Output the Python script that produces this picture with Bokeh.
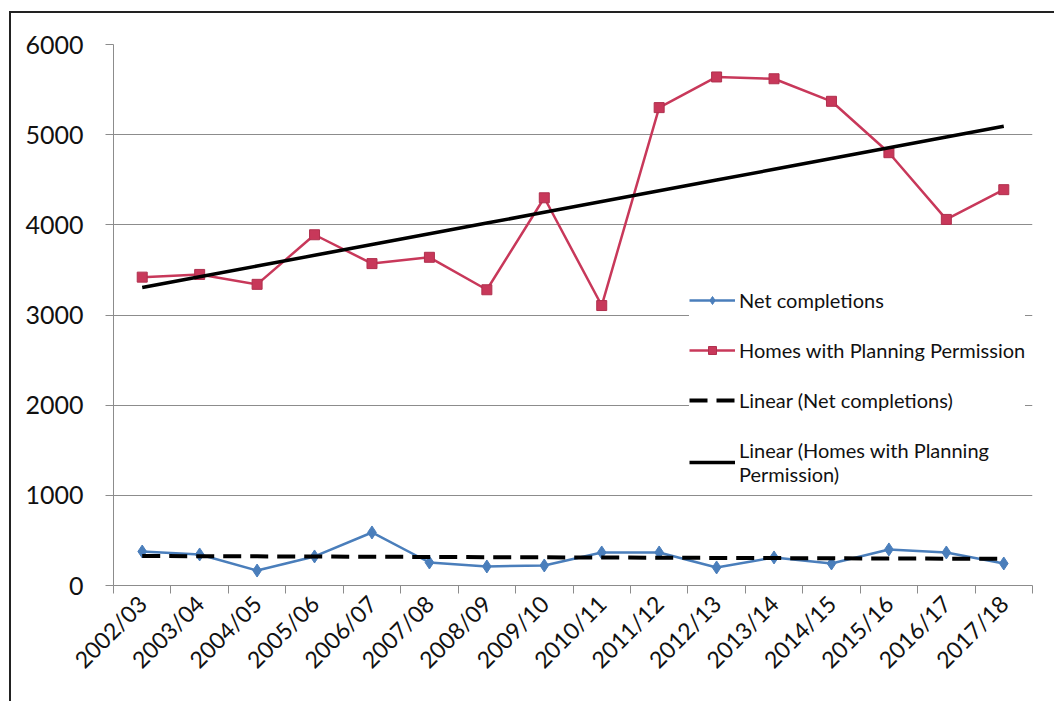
import numpy as np
from bokeh.plotting import figure
from bokeh.models import FixedTicker, Range1d, Legend, LegendItem, ColumnDataSource
from bokeh.embed import file_html
from bokeh.resources import INLINE
from math import pi

years = ["2002/03", "2003/04", "2004/05", "2005/06", "2006/07", "2007/08", "2008/09",
         "2009/10", "2010/11", "2011/12", "2012/13", "2013/14", "2014/15", "2015/16",
         "2016/17", "2017/18"]
net_completions = [377, 344, 166, 322, 588, 255, 211, 222, 366, 366, 200, 311, 244, 400, 366, 244]
planning_permission = [3420, 3450, 3340, 3890, 3570, 3640, 3280, 4300, 3105, 5300, 5640, 5620,
                       5370, 4800, 4060, 4390]
y_ticks = [0, 1000, 2000, 3000, 4000, 5000, 6000]

n = len(years)
xs = np.arange(n) + 0.5
idx = np.arange(n)
nc_fit = np.polyval(np.polyfit(idx, net_completions, 1), idx)
pp_fit = np.polyval(np.polyfit(idx, planning_permission, 1), idx)

FONT = "Lato"
RED = "#C8385A"
BLUE = "#4A7EBB"
GRID = "#8C8C8C"

p = figure(width=1045, height=690, output_backend="svg", toolbar_location=None,
           x_range=Range1d(0, n), y_range=Range1d(0, 6000),
           min_border_left=102, min_border_top=31, min_border_right=24, min_border_bottom=118)
p.styles = {"border-left": "2px solid #222", "border-top": "2px solid #222",
            "margin-left": "9px", "margin-top": "11px"}
p.outline_line_color = None
p.xgrid.grid_line_color = None
p.ygrid.grid_line_color = GRID
p.ygrid.grid_line_width = 1
p.ygrid.ticker = FixedTicker(ticks=y_ticks)

p.yaxis.ticker = FixedTicker(ticks=y_ticks)
p.yaxis.axis_line_color = GRID
p.yaxis.major_tick_line_color = GRID
p.yaxis.major_tick_out = 8
p.yaxis.major_tick_in = 0
p.yaxis.minor_tick_line_color = None
p.yaxis.major_label_text_font = FONT
p.yaxis.major_label_text_font_size = "25px"
p.yaxis.major_label_text_color = "#111111"
p.yaxis.major_label_standoff = 22

p.xaxis.ticker = FixedTicker(ticks=list(xs), minor_ticks=list(range(n + 1)))
p.xaxis.major_label_overrides = {float(x): y for x, y in zip(xs, years)}
p.xaxis.major_label_orientation = pi / 4
p.xaxis.major_tick_line_color = None
p.xaxis.minor_tick_line_color = GRID
p.xaxis.minor_tick_out = 8
p.xaxis.minor_tick_in = 0
p.xaxis.axis_line_color = GRID
p.xaxis.major_label_text_font = FONT
p.xaxis.major_label_text_font_size = "23px"
p.xaxis.major_label_text_color = "#111111"
p.xaxis.major_label_standoff = 6

src = ColumnDataSource(dict(x=xs, nc=net_completions, pp=planning_permission, ncf=nc_fit, ppf=pp_fit))

l1 = p.line("x", "nc", source=src, line_color=BLUE, line_width=2.5)
m1 = p.scatter("x", "nc", source=src, marker="diamond", size=13, fill_color=BLUE, line_color=BLUE)
l2 = p.line("x", "pp", source=src, line_color=RED, line_width=2.5)
m2 = p.scatter("x", "pp", source=src, marker="square", size=10, fill_color=RED, line_color="#B0304E")
t1 = p.line("x", "ncf", source=src, line_color="black", line_width=4, line_dash="18 9")
t2 = p.line("x", "ppf", source=src, line_color="black", line_width=3.5)

legend = Legend(items=[
    LegendItem(label="Net completions", renderers=[l1, m1]),
    LegendItem(label="Homes with Planning Permission", renderers=[l2, m2]),
    LegendItem(label="Linear (Net completions)", renderers=[t1]),
    LegendItem(label="Linear (Homes with Planning\nPermission)", renderers=[t2]),
], location=(576, 99))
legend.label_text_font = FONT
legend.label_text_font_size = "20px"
legend.label_text_color = "#111111"
legend.glyph_width = 46
legend.glyph_height = 20
legend.label_standoff = 4
legend.spacing = 26
legend.padding = 6
legend.margin = 0
legend.border_line_color = None
legend.background_fill_color = "white"
legend.background_fill_alpha = 1.0
p.add_layout(legend, "center")

open("out.html", "w").write(file_html(p, INLINE))
